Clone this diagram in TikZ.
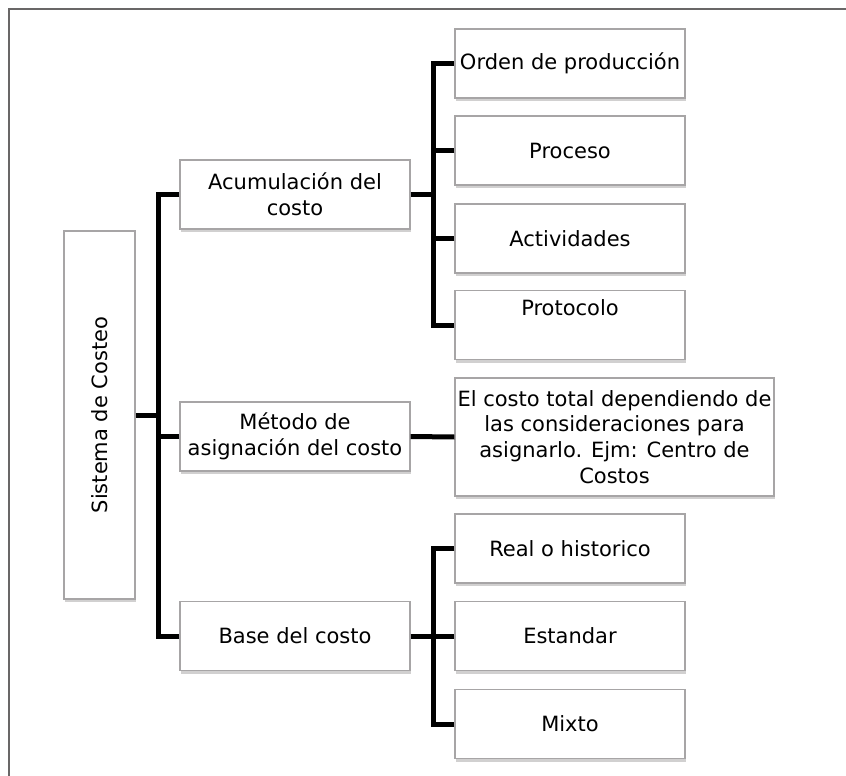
\documentclass[tikz,border=0pt]{standalone}
\usepackage{fontspec}
\setmainfont{DejaVu Sans}
\usepackage{xcolor}
\usepackage{graphicx}
\usetikzlibrary{shadows}
\definecolor{gris-marco}{cmyk}{0,0,0,.68}
\definecolor{gris-borde}{cmyk}{0,0,0,.4}
\definecolor{gris-sombra}{cmyk}{0,0,0,.35}

\begin{document}
\begin{tikzpicture}[x=1pt,y=-1pt,
    caja/.style={draw=gris-borde, line width=1.2pt, fill=white,
      minimum width=230pt, minimum height=69pt, inner sep=2pt, align=center,
      font=\fontsize{21}{25.8}\selectfont,
      drop shadow={shadow xshift=1pt, shadow yshift=-3pt, fill=gris-sombra, opacity=.6}},
    rama/.style={line width=5pt, color=black}]
    \useasboundingbox (0,0) rectangle (846,776);
    \draw[color=gris-marco, line width=2pt] (9,776) -- (9,9) -- (846,9);

    \node[caja, minimum width=71pt, minimum height=368pt] (raiz) at (99.5,415) {\rotatebox{90}{Sistema de Costeo}};

    \node[caja] (acum) at (295,194.5) {Acumulación del\\costo};
    \node[caja] (metodo) at (295,436.5) {Método de\\asignación del costo};
    \node[caja] (base) at (295,636) {Base del costo};

    \node[caja] (orden) at (570,63.5) {Orden de producción};
    \node[caja] (proceso) at (570,150.5) {Proceso};
    \node[caja] (activ) at (570,238.5) {Actividades};
    \node[caja] (proto) at (570,325) {Protocolo\\[10pt]\mbox{}};
    \node[caja, minimum width=319pt, minimum height=118pt] (centro) at (614.5,437)
      {El costo total dependiendo de\\las consideraciones para\\asignarlo. Ejm: Centro de\\Costos};
    \node[caja] (real) at (570,548.5) {Real o historico};
    \node[caja] (estandar) at (570,636) {Estandar};
    \node[caja] (mixto) at (570,724) {Mixto};

    \coordinate (t1) at (158,415);
    \coordinate (t2) at (433,194.5);
    \coordinate (t3) at (433,636);

    \draw[rama] (raiz.east) -- (t1);
    \foreach \n in {acum,metodo,base}
      \draw[rama] (\n.west) -| (t1);
    \draw[rama] (acum.east) -- (t2);
    \foreach \n in {orden,proceso,activ,proto}
      \draw[rama] (\n.west) -| (t2);
    \draw[rama] (metodo.east) -- (centro.west);
    \draw[rama] (base.east) -- (t3);
    \foreach \n in {real,estandar,mixto}
      \draw[rama] (\n.west) -| (t3);
  \end{tikzpicture}
\end{document}
